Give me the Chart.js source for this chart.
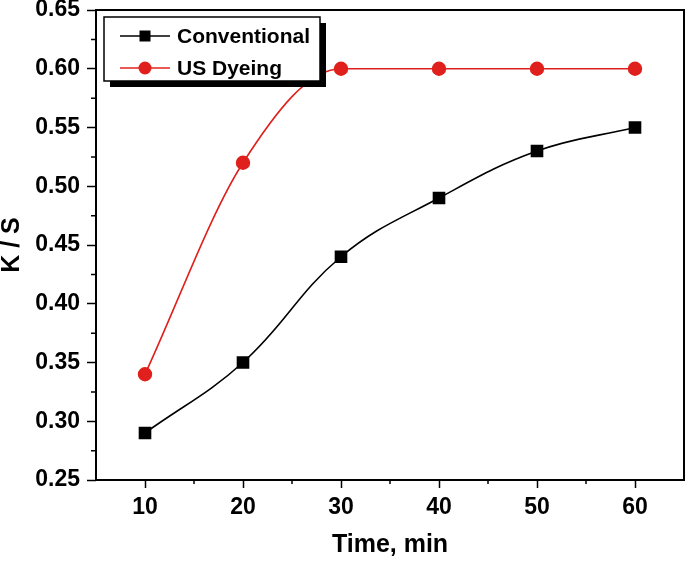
<html>
<head>
<meta charset="UTF-8">
<title>K/S vs time</title>
<script src="https://cdn.jsdelivr.net/npm/chart.js@4.4.0/dist/chart.umd.min.js"></script>
<style>
  body { margin: 0; background: #fff; }
  canvas { display: block; }
</style>
</head>
<body>
<canvas id="chart" width="685" height="561"></canvas>
<script>
  // values
  var times = [10, 20, 30, 40, 50, 60];
  var conventional = [0.29, 0.35, 0.44, 0.49, 0.53, 0.55];
  var usDyeing = [0.34, 0.52, 0.60, 0.60, 0.60, 0.60];
  var xTicks = [10, 20, 30, 40, 50, 60];
  var yTicks = [0.25, 0.30, 0.35, 0.40, 0.45, 0.50, 0.55, 0.60, 0.65];

  var fontName = "'Liberation Sans', Arial, sans-serif";

  function pairs(xs, ys) {
    var out = [];
    for (var i = 0; i < xs.length; i++) out.push({x: xs[i], y: ys[i]});
    return out;
  }

  function midpoints(arr) {
    var out = [];
    for (var i = 0; i < arr.length - 1; i++) out.push((arr[i] + arr[i + 1]) / 2);
    return out;
  }

  // frame, minor ticks and the shadowed legend
  var decorations = {
    id: 'decorations',
    afterDraw: function(chart) {
      var ctx = chart.ctx;
      var a = chart.chartArea;
      var xs = chart.scales.x, ys = chart.scales.y;
      ctx.save();
      ctx.strokeStyle = '#000';
      ctx.lineWidth = 2;
      ctx.strokeRect(a.left, a.top, a.right - a.left, a.bottom - a.top);

      ctx.lineWidth = 1.5;
      ctx.beginPath();
      midpoints(xTicks).forEach(function(v) {
        var px = xs.getPixelForValue(v);
        ctx.moveTo(px, a.bottom);
        ctx.lineTo(px, a.bottom + 4);
      });
      midpoints(yTicks).forEach(function(v) {
        var py = ys.getPixelForValue(v);
        ctx.moveTo(a.left, py);
        ctx.lineTo(a.left - 5, py);
      });
      ctx.stroke();

      // legend
      var bx = 104, by = 17, bw = 216, bh = 64;
      ctx.fillStyle = '#000';
      ctx.fillRect(bx + 6, by + 6, bw, bh);
      ctx.fillStyle = '#fff';
      ctx.fillRect(bx, by, bw, bh);
      ctx.lineWidth = 1.5;
      ctx.strokeRect(bx, by, bw, bh);

      var rows = [36, 68];
      chart.data.datasets.forEach(function(ds, i) {
        var y = rows[i];
        ctx.strokeStyle = ds.borderColor;
        ctx.lineWidth = 1.5;
        ctx.beginPath();
        ctx.moveTo(120, y);
        ctx.lineTo(170, y);
        ctx.stroke();
        ctx.fillStyle = ds.pointBackgroundColor;
        if (ds.pointStyle === 'rect') {
          ctx.fillRect(145 - 5.5, y - 5.5, 11, 11);
        } else {
          ctx.beginPath();
          ctx.arc(145, y, 6.5, 0, Math.PI * 2);
          ctx.fill();
        }
        ctx.fillStyle = '#000';
        ctx.font = 'bold 21px ' + fontName;
        ctx.textBaseline = 'middle';
        ctx.textAlign = 'left';
        ctx.fillText(ds.label, 177, y + 1);
      });
      ctx.restore();
    }
  };

  var canvas = document.getElementById('chart');
  var myChart = new Chart(canvas, {
    type: 'line',
    data: {
      datasets: [
        {
          label: 'Conventional',
          data: pairs(times, conventional),
          borderColor: '#000000',
          backgroundColor: '#000000',
          pointBackgroundColor: '#000000',
          pointBorderColor: '#000000',
          pointStyle: 'rect',
          pointRadius: 7.8,
          borderWidth: 1.6,
          tension: 0.4,
          fill: false
        },
        {
          label: 'US Dyeing',
          data: pairs(times, usDyeing),
          borderColor: '#e0201c',
          backgroundColor: '#e0201c',
          pointBackgroundColor: '#e0201c',
          pointBorderColor: '#e0201c',
          pointStyle: 'circle',
          pointRadius: 6.4,
          borderWidth: 1.6,
          cubicInterpolationMode: 'monotone',
          fill: false
        }
      ]
    },
    options: {
      responsive: false,
      animation: false,
      layout: { autoPadding: false, padding: { top: 10, right: 1, left: 0, bottom: 0 } },
      plugins: {
        legend: { display: false },
        tooltip: { enabled: false }
      },
      scales: {
        x: {
          type: 'linear',
          min: 5,
          max: 65,
          afterBuildTicks: function(scale) {
            scale.ticks = xTicks.map(function(v) { return {value: v}; });
          },
          afterFit: function(scale) {
            scale.height = 81;
            scale.paddingLeft = 0;
            scale.paddingRight = 0;
          },
          border: { display: false },
          grid: {
            display: true,
            drawOnChartArea: false,
            drawTicks: true,
            tickLength: 8,
            tickColor: '#000',
            tickWidth: 1.5
          },
          ticks: {
            color: '#000',
            padding: 6,
            maxRotation: 0,
            font: { family: fontName, size: 23, weight: 'bold' }
          },
          title: {
            display: true,
            text: 'Time, min',
            color: '#000',
            padding: { top: 0, bottom: 3 },
            font: { family: fontName, size: 25, weight: 'bold', lineHeight: 1 }
          }
        },
        y: {
          type: 'linear',
          min: 0.25,
          max: 0.65,
          afterBuildTicks: function(scale) {
            scale.ticks = yTicks.map(function(v) { return {value: v}; });
          },
          afterFit: function(scale) {
            scale.width = 96;
            scale.paddingTop = 0;
            scale.paddingBottom = 0;
          },
          border: { display: false },
          grid: {
            display: true,
            drawOnChartArea: false,
            drawTicks: true,
            tickLength: 9,
            tickColor: '#000',
            tickWidth: 1.5
          },
          ticks: {
            color: '#000',
            padding: 7,
            callback: function(v) { return Number(v).toFixed(2); },
            font: { family: fontName, size: 23, weight: 'bold' }
          },
          title: {
            display: true,
            text: 'K / S',
            color: '#000',
            padding: { top: 0, bottom: 0 },
            font: { family: fontName, size: 25, weight: 'bold', lineHeight: 1 }
          }
        }
      }
    },
    plugins: [decorations]
  });
</script>
</body>
</html>
